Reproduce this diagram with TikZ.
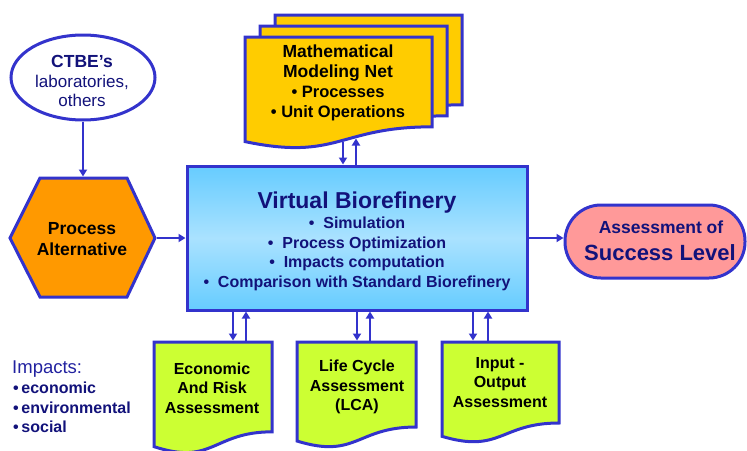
\documentclass[tikz,border=0pt]{standalone}
\usepackage{fontspec}
\setmainfont{Liberation Sans}
\usetikzlibrary{arrows.meta,shapes.geometric,calc}

\definecolor{edgeblue}{HTML}{3333CC}
\definecolor{navytext}{HTML}{12127A}
\definecolor{impblue}{HTML}{2222A0}
\definecolor{hexorange}{HTML}{FF9900}
\definecolor{docgold}{HTML}{FFCC00}
\definecolor{doclime}{HTML}{CCFF33}
\definecolor{pillpink}{HTML}{FF9999}
\definecolor{boxedge}{HTML}{66CCFF}
\definecolor{boxmid}{HTML}{AAE2FF}

% flowchart "document" outline: x, y (top left), width, height, fill
\newcommand\docshape[5]{%
  \filldraw[outline, fill=#5] (#1,#2) -- (#1+#3,#2) -- (#1+#3,#2+0.802*#4)
    .. controls (#1+0.5*#3,#2+0.802*#4) and (#1+0.5*#3,#2+1.1075*#4) .. (#1,#2+0.934*#4)
    -- cycle;}

\tikzset{
  outline/.style={draw=edgeblue, line width=3pt, line join=miter},
  arr/.style={draw=edgeblue, line width=2.8pt, -{Triangle[length=7pt,width=8pt]}},
  lbl/.style={anchor=base, inner sep=0pt, font=\fontsize{16}{19}\selectfont\bfseries},
  big/.style={anchor=base, inner sep=0pt, font=\fontsize{17.5}{21}\selectfont\bfseries},
}

\begin{document}
\begin{tikzpicture}[x=1pt,y=-1pt]
\useasboundingbox (0,0) rectangle (747,450);

% source ellipse
\node[ellipse, outline, fill=white, minimum width=144pt, minimum height=85pt, inner sep=0pt] (ctbe) at (83,77.5) {};
\node[big, text=navytext] (ctbe1) at (82,67) {CTBE’s};
\node[lbl, font=\fontsize{17}{20}\selectfont, text=navytext] (ctbe2) at (82,87) {laboratories,};
\node[lbl, font=\fontsize{17}{20}\selectfont, text=navytext] (ctbe3) at (82,106) {others};

% process alternative hexagon
\filldraw[outline, fill=hexorange] (10,238) -- (40,178) -- (127,178) -- (155,238) -- (127,297) -- (40,297) -- cycle;
\coordinate (pa-n) at (83,176.5);
\coordinate (pa-e) at (156.5,238);
\node[big] (pa1) at (82,234) {Process};
\node[big] (pa2) at (82,255) {Alternative};

% virtual biorefinery box
\node[rectangle, outline, top color=boxedge, bottom color=boxedge, middle color=boxmid,
      minimum width=340pt, minimum height=144pt, inner sep=0pt] (vb) at (357,238) {};
\node[anchor=base, inner sep=0pt, font=\fontsize{23}{27}\selectfont\bfseries, text=navytext] (vb0) at (357,208) {Virtual Biorefinery};
\node[lbl, text=navytext] (vb1) at (357,228) {•\ \ Simulation};
\node[lbl, text=navytext] (vb2) at (357,248) {•\ \ Process Optimization};
\node[lbl, text=navytext] (vb3) at (357,267) {•\ \ Impacts computation};
\node[lbl, text=navytext] (vb4) at (357,287) {•\ \ Comparison with Standard Biorefinery};

% success level pill
\node[rectangle, outline, fill=pillpink, rounded corners=36pt, minimum width=180pt, minimum height=73pt, inner sep=0pt] (sl) at (655,241.5) {};
\node[big, text=navytext] (sl1) at (661,233) {Assessment of};
\node[anchor=base, inner sep=0pt, font=\fontsize{22}{26}\selectfont\bfseries, text=navytext] (sl2) at (660,260) {Success Level};

% stacked modeling documents
\docshape{275}{15}{187}{112}{docgold}
\docshape{260}{26}{187}{112}{docgold}
\docshape{245}{37}{187}{112}{docgold}
\node[big] (mmn1) at (338,57) {Mathematical};
\node[big] (mmn2) at (338,77) {Modeling Net};
\node[lbl, font=\fontsize{16.5}{20}\selectfont\bfseries] (mmn3) at (338,97) {•\ Processes};
\node[lbl, font=\fontsize{16.5}{20}\selectfont\bfseries] (mmn4) at (338,117) {•\ Unit Operations};
\coordinate (mmn-out) at (343,141.5);
\coordinate (mmn-in) at (356,138.5);

% assessment documents
\docshape{154}{342}{118}{112}{doclime}
\docshape{297}{342}{119}{106}{doclime}
\docshape{442}{342}{117}{101}{doclime}
\node[lbl] (econ1) at (212,374) {Economic};
\node[lbl] (econ2) at (212,393) {And Risk};
\node[lbl] (econ3) at (212,413) {Assessment};
\node[lbl] (lca1) at (357,371) {Life Cycle};
\node[lbl] (lca2) at (357,391) {Assessment};
\node[lbl] (lca3) at (357,410) {(LCA)};
\node[lbl] (io1) at (500,368) {Input -};
\node[lbl] (io2) at (500,387) {Output};
\node[lbl] (io3) at (500,407) {Assessment};
\coordinate (econ-in) at (233,340.5);
\coordinate (econ-out) at (246,340.5);
\coordinate (lca-in) at (357,340.5);
\coordinate (lca-out) at (370,340.5);
\coordinate (io-in) at (473,340.5);
\coordinate (io-out) at (488,340.5);

% impacts list
\node[anchor=base west, inner sep=0pt, font=\fontsize{18.5}{22}\selectfont, text=impblue] (imp0) at (12,373) {Impacts:};
\node[anchor=base west, inner sep=0pt, font=\fontsize{16}{19}\selectfont\bfseries, text=navytext] (imp1) at (13,393) {•\,economic};
\node[anchor=base west, inner sep=0pt, font=\fontsize{16}{19}\selectfont\bfseries, text=navytext] (imp2) at (13,413) {•\,environmental};
\node[anchor=base west, inner sep=0pt, font=\fontsize{16}{19}\selectfont\bfseries, text=navytext] (imp3) at (13,432) {•\,social};

% connectors
\draw[arr] (ctbe.south) -- (pa-n);
\draw[arr] (pa-e) -- (vb.west);
\draw[arr] (vb.east) -- (vb.east -| sl.west);
\draw[arr] (mmn-out) -- (vb.north -| mmn-out);
\draw[arr] (vb.north -| mmn-in) -- (mmn-in);
\draw[arr] (vb.south -| econ-in) -- (econ-in);
\draw[arr] (econ-out) -- (vb.south -| econ-out);
\draw[arr] (vb.south -| lca-in) -- (lca-in);
\draw[arr] (lca-out) -- (vb.south -| lca-out);
\draw[arr] (vb.south -| io-in) -- (io-in);
\draw[arr] (io-out) -- (vb.south -| io-out);
\end{tikzpicture}
\end{document}
